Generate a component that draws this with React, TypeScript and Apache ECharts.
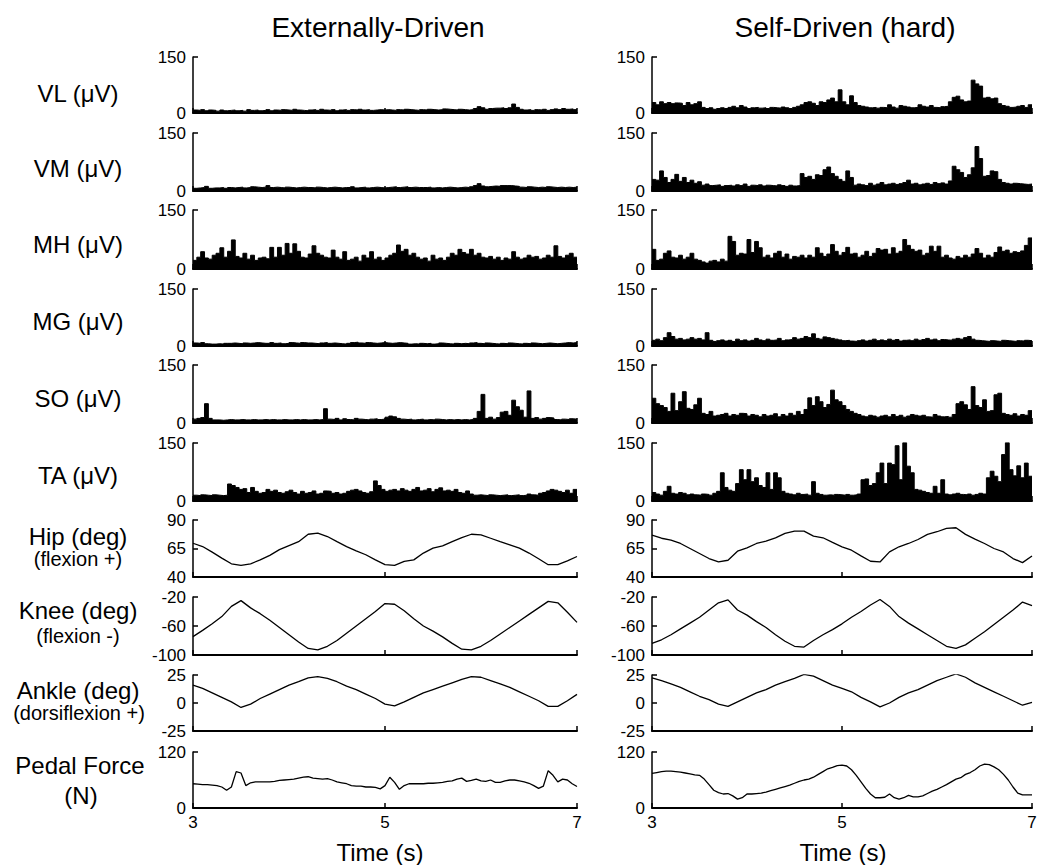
import React, { useEffect, useRef } from "react";
import * as echarts from "echarts";

// ---------- time bases ----------
const T_START = 3;
const T_END = 7;
const EMG_DT = 0.04; // EMG bins
const JOINT_DT = 0.1; // joint angle samples
const FORCE_DT = 0.05; // pedal force samples
const X_TICKS = [3, 5, 7];

// ---------- titles / labels ----------
const COLUMN_TITLES = ["Externally-Driven", "Self-Driven (hard)"];
const X_TITLE = "Time (s)";
const ROW_LABELS: string[][] = [
  ["VL (μV)"],
  ["VM (μV)"],
  ["MH (μV)"],
  ["MG (μV)"],
  ["SO (μV)"],
  ["TA (μV)"],
  ["Hip (deg)", "(flexion +)"],
  ["Knee (deg)", "(flexion -)"],
  ["Ankle (deg)", "(dorsiflexion +)"],
  ["Pedal Force", "(N)"],
];
const EMG_TICKS = [0, 150];
const HIP_TICKS = [40, 65, 90];
const KNEE_TICKS = [-100, -60, -20];
const ANKLE_TICKS = [-25, 0, 25];
const FORCE_TICKS = [0, 120];

// ---------- Externally-driven EMG (μV), 0.04 s bins ----------
const vlExt = [
  8, 7, 9, 6, 8, 7, 5, 8, 6, 7, 8, 6, 7, 5, 9, 7, 8, 6, 7, 9,
  6, 8, 7, 9, 8, 7, 10, 8, 7, 6, 8, 9, 7, 10, 8, 7, 9, 6, 8, 9,
  7, 9, 8, 10, 8, 9, 7, 8, 9, 8, 9, 8, 7, 9, 8, 10, 9, 8, 7, 9,
  8, 10, 9, 8, 9, 11, 10, 9, 8, 10, 9, 8, 9, 12, 17, 14, 10, 12, 13, 13,
  14, 12, 14, 24, 15, 10, 8, 9, 7, 9, 8, 10, 7, 9, 11, 9, 12, 10, 11, 9,
];
const vmExt = [
  7, 8, 9, 12, 7, 8, 8, 9, 7, 9, 8, 9, 10, 8, 9, 11, 10, 9, 10, 14,
  9, 10, 9, 8, 10, 9, 8, 9, 10, 9, 9, 8, 10, 9, 8, 9, 10, 9, 8, 9,
  9, 11, 8, 9, 10, 8, 9, 10, 9, 8, 9, 10, 11, 9, 10, 11, 9, 10, 9, 9,
  9, 10, 8, 9, 8, 9, 10, 9, 8, 9, 10, 9, 11, 14, 19, 13, 11, 12, 13, 12,
  14, 14, 14, 13, 12, 10, 9, 11, 10, 9, 10, 9, 11, 10, 9, 10, 9, 10, 9, 10,
];
const mhExt = [
  22, 30, 44, 28, 25, 35, 40, 54, 30, 45, 74, 32, 28, 40, 25, 35, 22, 28, 30, 26,
  55, 30, 55, 35, 65, 40, 64, 45, 30, 28, 38, 59, 40, 35, 30, 28, 48, 30, 25, 44,
  22, 25, 30, 20, 35, 28, 44, 25, 30, 22, 28, 35, 40, 61, 45, 50, 35, 40, 30, 25,
  28, 20, 35, 25, 28, 22, 30, 40, 35, 50, 42, 38, 50, 35, 40, 30, 28, 32, 25, 30,
  22, 28, 25, 44, 30, 25, 28, 35, 30, 32, 25, 28, 35, 30, 59, 32, 28, 35, 40, 30,
];
const mgExt = [
  8, 7, 9, 6, 5, 5, 6, 5, 7, 7, 8, 7, 6, 8, 7, 8, 9, 8, 7, 7,
  9, 7, 8, 6, 7, 9, 8, 7, 9, 8, 8, 7, 6, 8, 9, 7, 8, 7, 6, 5,
  7, 9, 10, 8, 7, 9, 8, 7, 8, 9, 8, 7, 8, 9, 8, 7, 5, 6, 5, 7,
  6, 7, 5, 6, 8, 7, 6, 5, 7, 6, 7, 6, 8, 9, 7, 6, 8, 7, 6, 5,
  7, 6, 8, 7, 6, 5, 7, 6, 8, 7, 6, 7, 8, 7, 6, 7, 8, 9, 8, 9,
];
const soExt = [
  10, 12, 14, 50, 12, 8, 8, 7, 8, 9, 8, 8, 9, 8, 8, 9, 8, 8, 9, 8,
  9, 8, 8, 9, 8, 8, 9, 8, 9, 8, 8, 9, 8, 9, 37, 10, 9, 12, 8, 11,
  9, 8, 12, 10, 9, 8, 10, 11, 9, 10, 15, 18, 16, 12, 10, 9, 10, 8, 9, 10,
  8, 9, 8, 10, 9, 8, 9, 8, 9, 8, 9, 8, 9, 12, 30, 74, 12, 15, 10, 14,
  28, 30, 20, 59, 42, 33, 15, 83, 12, 14, 10, 12, 14, 13, 9, 8, 10, 9, 11, 10,
];
const taExt = [
  15, 14, 16, 15, 14, 16, 15, 14, 15, 44, 40, 35, 30, 32, 22, 35, 25, 20, 22, 30,
  25, 28, 22, 20, 24, 28, 22, 18, 25, 20, 22, 26, 18, 20, 26, 25, 20, 22, 18, 20,
  25, 28, 30, 26, 22, 20, 24, 52, 40, 30, 25, 28, 30, 26, 32, 28, 25, 30, 35, 26,
  28, 32, 24, 30, 34, 26, 28, 25, 30, 22, 20, 26, 18, 15, 16, 15, 14, 16, 15, 14,
  15, 16, 14, 15, 16, 14, 15, 18, 16, 15, 20, 22, 26, 30, 28, 25, 22, 28, 20, 30,
];

// ---------- Self-driven EMG (μV), 0.04 s bins ----------
const vlSelf = [
  28, 22, 30, 25, 28, 25, 27, 26, 20, 28, 22, 25, 30, 15, 12, 14, 10, 12, 14, 12,
  15, 18, 14, 20, 16, 12, 14, 15, 13, 14, 12, 15, 14, 13, 16, 14, 12, 15, 18, 22,
  28, 30, 26, 20, 30, 28, 35, 40, 30, 62, 30, 22, 46, 28, 20, 18, 16, 14, 15, 13,
  15, 14, 22, 16, 13, 20, 18, 16, 14, 15, 22, 18, 16, 20, 15, 14, 17, 18, 30, 42,
  45, 35, 30, 32, 88, 78, 72, 40, 42, 38, 40, 25, 20, 18, 15, 16, 18, 20, 15, 22,
];
const vmSelf = [
  30, 28, 52, 35, 22, 30, 43, 25, 35, 22, 28, 20, 24, 15, 18, 14, 15, 16, 12, 14,
  15, 13, 16, 14, 18, 12, 15, 14, 16, 13, 15, 14, 13, 16, 14, 12, 15, 13, 14, 45,
  35, 38, 30, 42, 40, 55, 62, 45, 38, 30, 25, 52, 35, 15, 18, 16, 14, 20, 15, 18,
  22, 16, 18, 20, 17, 19, 22, 28, 18, 20, 16, 18, 20, 17, 22, 19, 21, 18, 26, 64,
  55, 48, 35, 42, 60, 115, 84, 38, 40, 52, 50, 30, 22, 20, 18, 20, 19, 18, 17, 18,
];
const mhSelf = [
  50, 22, 25, 40, 46, 30, 28, 35, 25, 30, 40, 25, 22, 18, 15, 20, 22, 18, 25, 20,
  83, 70, 35, 40, 38, 75, 42, 70, 54, 30, 35, 28, 40, 45, 30, 38, 25, 32, 30, 35,
  28, 35, 30, 54, 40, 32, 38, 62, 45, 35, 42, 55, 38, 40, 30, 35, 45, 32, 40, 52,
  48, 50, 38, 54, 40, 45, 75, 60, 50, 45, 48, 35, 40, 58, 45, 58, 30, 35, 28, 25,
  32, 28, 35, 30, 38, 52, 40, 28, 35, 30, 42, 56, 45, 48, 40, 44, 42, 46, 60, 79,
];
const mgSelf = [
  15, 18, 14, 22, 35, 25, 18, 20, 16, 18, 22, 18, 20, 16, 35, 15, 12, 14, 16, 13,
  15, 12, 18, 14, 16, 13, 15, 20, 16, 14, 18, 15, 16, 20, 14, 16, 17, 22, 18, 20,
  25, 22, 32, 20, 18, 24, 22, 20, 18, 16, 14, 15, 13, 12, 14, 16, 13, 15, 18, 14,
  16, 14, 18, 15, 17, 13, 15, 16, 14, 18, 15, 17, 20, 16, 18, 14, 17, 16, 15, 18,
  20, 18, 22, 25, 18, 15, 14, 13, 12, 14, 13, 12, 15, 14, 13, 12, 14, 13, 15, 14,
];
const soSelf = [
  64, 50, 45, 40, 30, 77, 32, 55, 81, 38, 35, 47, 64, 25, 22, 30, 18, 20, 22, 25,
  18, 22, 20, 25, 24, 18, 22, 20, 16, 22, 18, 20, 24, 16, 22, 18, 25, 20, 30, 22,
  35, 65, 45, 68, 55, 40, 48, 85, 60, 55, 45, 35, 30, 25, 22, 18, 16, 20, 18, 15,
  18, 20, 16, 22, 17, 20, 15, 18, 22, 20, 18, 20, 16, 15, 22, 18, 16, 17, 15, 22,
  50, 55, 47, 35, 94, 45, 40, 60, 30, 32, 73, 77, 25, 22, 20, 24, 18, 22, 20, 32,
];
const taSelf = [
  22, 18, 15, 25, 38, 20, 18, 22, 20, 16, 18, 16, 15, 18, 17, 15, 20, 25, 73, 35,
  28, 25, 45, 81, 55, 81, 50, 60, 40, 35, 73, 30, 73, 60, 25, 20, 18, 16, 20, 17,
  18, 15, 50, 20, 17, 15, 16, 15, 17, 16, 15, 17, 15, 16, 18, 55, 57, 40, 45, 73,
  98, 45, 98, 94, 143, 55, 151, 90, 73, 30, 28, 25, 22, 20, 38, 20, 55, 18, 16, 18,
  20, 17, 16, 18, 15, 17, 20, 18, 60, 77, 64, 50, 120, 151, 81, 65, 91, 60, 98, 64,
];

// ---------- Joint angles (deg), 0.1 s samples ----------
const hipExt = [
  69.6, 66.7, 61.8, 56.6, 51.6, 50.2, 51.6, 55, 59, 64, 67.6, 71, 77.5, 78.4, 75.5, 71, 66.7, 63, 59.5, 55,
  50.8, 50.2, 53.7, 55, 61, 65.3, 67.3, 71, 74.6, 77.5, 77, 74, 71, 68.2, 65.3, 61, 56, 50.8, 50.8, 54.2, 58,
];
const kneeExt = [
  -74.6, -66, -57, -47, -33, -25, -35, -43, -52, -62, -72, -82, -91, -93, -88, -80, -70, -60, -50, -40,
  -29, -30, -39, -50, -60, -67, -75, -84, -92, -93, -88, -80, -71, -62, -53, -44, -35, -26, -28, -41, -55,
];
const ankleExt = [
  16, 13, 9, 5, 1, -4, -1, 4, 8, 12, 16, 19, 22.5, 23.5, 22, 19, 15, 12, 8, 4,
  -1, -2.5, 1, 5, 9, 12, 15, 18, 21, 23.5, 23, 20, 17, 14, 10, 6, 2, -3, -3, 2, 7.7,
];
const hipSelf = [
  76.8, 74, 72.4, 69.4, 65, 60.6, 56.2, 53.2, 54.7, 62.6, 65.6, 69.4, 71.5, 74.4, 78.2, 80.3, 80.3, 75.9, 74.4, 70.3,
  66.5, 63.5, 58.5, 53.8, 53.2, 62, 66.5, 69.4, 72.9, 77.4, 79.7, 82.6, 83.2, 77.4, 73.2, 69.4, 65, 62, 56.2, 52.6, 58.5,
];
const kneeSelf = [
  -84, -79, -72, -64, -56, -48, -38, -28, -24, -38, -45, -54, -62, -72, -81, -88, -89, -80, -72, -65,
  -57, -48, -40, -31, -23.5, -33, -47, -56, -64, -72, -80, -88, -91, -86, -77, -68, -58, -48, -38, -27, -32,
];
const ankleSelf = [
  22.5, 20, 17, 14, 10, 6, 3, -1, -3, 1, 5, 9, 12, 16, 19, 22, 25.5, 24, 20, 16,
  13, 10, 5, 1, -3.4, 0, 5, 9, 12, 16, 20, 23, 26, 23, 18, 14, 10, 6, 2, -2, 0.5,
];

// ---------- Pedal force (N), 0.05 s samples ----------
const forceExt = [
  52, 51, 50, 50, 49, 48, 45, 38, 45, 78, 75, 48, 54, 56, 56, 56, 56, 57, 59, 60,
  61, 62, 64, 66, 67, 64, 63, 62, 63, 60, 56, 54, 52, 48, 47, 47, 45, 45, 44, 41,
  48, 66, 55, 40, 48, 52, 52, 52, 52, 53, 53, 54, 55, 57, 58, 62, 64, 57, 59, 62,
  58, 57, 60, 55, 55, 58, 60, 60, 58, 56, 53, 48, 42, 47, 80, 70, 56, 62, 60, 52, 46,
];
const forceSelf = [
  74, 76, 78, 79, 79, 78, 77, 75, 73, 71, 70, 62, 50, 38, 33, 30, 31, 26, 19, 22,
  30, 30, 31, 32, 34, 37, 40, 43, 46, 49, 53, 57, 60, 62, 66, 72, 78, 84, 87, 91,
  92, 90, 82, 70, 56, 42, 30, 22, 22, 23, 30, 22, 19, 22, 27, 24, 24, 26, 31, 36,
  40, 45, 50, 56, 62, 65, 72, 76, 82, 90, 94, 93, 88, 82, 72, 60, 45, 32, 28, 28, 28,
];

// ---------- layout ----------
const FONT = "'Liberation Sans', Arial, sans-serif";
const COL_LEFT = [193, 652];
const COL_WIDTH = [384, 380];
const ROW_TOP = [57, 133, 210, 289, 365, 443, 520, 597, 675, 752];
const ROW_HEIGHT = [56, 58, 59, 57, 58, 58, 57, 58, 56, 56];
const EMG_LABEL_Y = [93, 168, 244, 321, 398, 475];

type Panel = { kind: "emg" | "line"; values: number[]; dt: number; ticks: number[] };

const emgPanel = (values: number[]): Panel => ({ kind: "emg", values, dt: EMG_DT, ticks: EMG_TICKS });
const COLUMNS: Panel[][] = [
  [
    emgPanel(vlExt), emgPanel(vmExt), emgPanel(mhExt), emgPanel(mgExt), emgPanel(soExt), emgPanel(taExt),
    { kind: "line", values: hipExt, dt: JOINT_DT, ticks: HIP_TICKS },
    { kind: "line", values: kneeExt, dt: JOINT_DT, ticks: KNEE_TICKS },
    { kind: "line", values: ankleExt, dt: JOINT_DT, ticks: ANKLE_TICKS },
    { kind: "line", values: forceExt, dt: FORCE_DT, ticks: FORCE_TICKS },
  ],
  [
    emgPanel(vlSelf), emgPanel(vmSelf), emgPanel(mhSelf), emgPanel(mgSelf), emgPanel(soSelf), emgPanel(taSelf),
    { kind: "line", values: hipSelf, dt: JOINT_DT, ticks: HIP_TICKS },
    { kind: "line", values: kneeSelf, dt: JOINT_DT, ticks: KNEE_TICKS },
    { kind: "line", values: ankleSelf, dt: JOINT_DT, ticks: ANKLE_TICKS },
    { kind: "line", values: forceSelf, dt: FORCE_DT, ticks: FORCE_TICKS },
  ],
];

function toPoints(p: Panel): number[][] {
  const pts = p.values.map((v, i) => [+(T_START + i * p.dt).toFixed(3), v]);
  if (p.kind === "emg") pts.push([T_END, p.values[p.values.length - 1]]);
  return pts;
}

function buildOption() {
  const grid: any[] = [];
  const xAxis: any[] = [];
  const yAxis: any[] = [];
  const series: any[] = [];
  COLUMNS.forEach((col, c) => {
    col.forEach((p, r) => {
      const idx = c * 10 + r;
      grid.push({ left: COL_LEFT[c], top: ROW_TOP[r], width: COL_WIDTH[c], height: ROW_HEIGHT[r] });
      xAxis.push({
        type: "value",
        gridIndex: idx,
        min: T_START,
        max: T_END,
        axisLine: { show: true, onZero: false, lineStyle: { color: "#000", width: 2 } },
        axisTick: { show: true, inside: true, length: 5, customValues: X_TICKS, lineStyle: { color: "#000", width: 1.5 } },
        axisLabel: {
          show: r === 9,
          customValues: X_TICKS,
          color: "#000",
          fontSize: 17,
          fontFamily: FONT,
          margin: 6,
        },
        splitLine: { show: false },
      });
      yAxis.push({
        type: "value",
        gridIndex: idx,
        min: p.ticks[0],
        max: p.ticks[p.ticks.length - 1],
        axisLine: { show: true, onZero: false, lineStyle: { color: "#000", width: 1.5 } },
        axisTick: { show: true, inside: true, length: 5, customValues: p.ticks, lineStyle: { color: "#000", width: 1.5 } },
        axisLabel: {
          customValues: p.ticks,
          color: "#000",
          fontSize: 17,
          fontFamily: FONT,
          margin: 7,
        },
        splitLine: { show: false },
      });
      const base: any = {
        type: "line",
        xAxisIndex: idx,
        yAxisIndex: idx,
        data: toPoints(p),
        showSymbol: false,
        symbol: "none",
        silent: true,
      };
      if (p.kind === "emg") {
        series.push({
          ...base,
          step: "end",
          lineStyle: { color: "#000", width: 1 },
          areaStyle: { color: "#000", opacity: 1 },
        });
      } else {
        series.push({ ...base, lineStyle: { color: "#000", width: 1.3 } });
      }
    });
  });

  const text = (x: number, y: number, s: string, size: number) => ({
    type: "text",
    x,
    y,
    silent: true,
    style: {
      text: s,
      fill: "#000",
      font: `${size}px ${FONT}`,
      fontSize: size,
      fontFamily: FONT,
      align: "center",
      verticalAlign: "middle",
      textAlign: "center",
      textVerticalAlign: "middle",
    },
  });

  const graphic: any[] = [
    text(378, 27, COLUMN_TITLES[0], 28),
    text(845, 27, COLUMN_TITLES[1], 28),
    text(380, 852, X_TITLE, 24),
    text(843, 852, X_TITLE, 24),
  ];
  ROW_LABELS.forEach((lab, r) => {
    if (r < 6) {
      graphic.push(text(78, EMG_LABEL_Y[r], lab[0], 24));
    }
  });
  graphic.push(text(78, 536, ROW_LABELS[6][0], 24));
  graphic.push(text(78, 559, ROW_LABELS[6][1], 20));
  graphic.push(text(78, 610, ROW_LABELS[7][0], 24));
  graphic.push(text(78, 636, ROW_LABELS[7][1], 20));
  graphic.push(text(78, 690, ROW_LABELS[8][0], 24));
  graphic.push(text(79, 713, ROW_LABELS[8][1], 20));
  graphic.push(text(80, 765, ROW_LABELS[9][0], 24));
  graphic.push(text(81, 795, ROW_LABELS[9][1], 24));

  return {
    animation: false,
    backgroundColor: "#fff",
    textStyle: { fontFamily: FONT },
    grid,
    xAxis,
    yAxis,
    series,
    graphic,
  };
}

export default function App() {
  const ref = useRef<HTMLDivElement>(null);
  useEffect(() => {
    if (!ref.current) return;
    const chart = echarts.init(ref.current, undefined, { renderer: "svg" });
    chart.setOption(buildOption() as any);
    return () => chart.dispose();
  }, []);
  return (
    <div
      ref={ref}
      style={{ position: "absolute", left: 0, top: 0, width: 1042, height: 865, background: "#fff" }}
    />
  );
}
